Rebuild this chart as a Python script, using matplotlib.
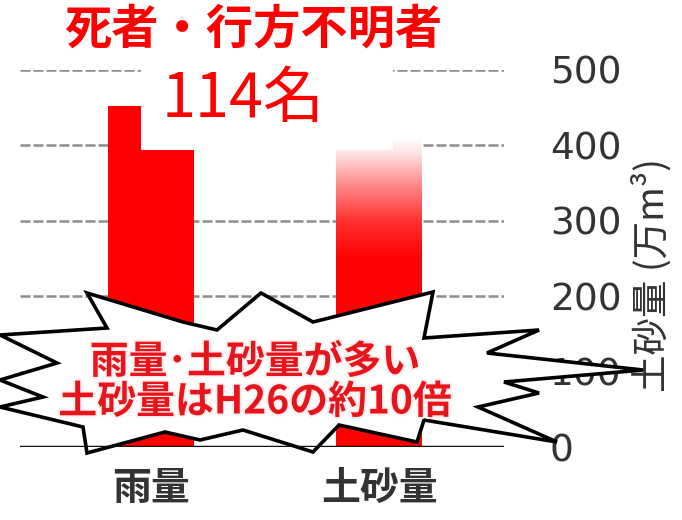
import matplotlib.pyplot as plt
import matplotlib.transforms as mtransforms
import matplotlib.patheffects as pe
from matplotlib.patches import Rectangle, Polygon
from matplotlib.colors import LinearSegmentedColormap
import numpy as np

plt.rcParams['font.family'] = ['Noto Sans CJK JP', 'DejaVu Sans']

# data
categories = ['雨量', '土砂量']
values = [452, 410]            # 万m3
yticks = [0, 100, 200, 300, 400, 500]
ylabel = '土砂量 (万m³)'
title = '死者・行方不明者'
count_text = '114名'
callout_lines = ['雨量･土砂量が多い', '土砂量はH26の約10倍']

# starburst outline, image pixels (x right, y down)
burst = [(87, 293), (107, 328), (0, 335), (57, 363), (0, 380), (43, 397),
         (0, 407), (83, 427), (87, 453), (165, 432), (200, 440), (243, 430),
         (313, 452), (339, 425), (417, 442), (424, 420), (557, 442),
         (478, 407), (539, 393), (504, 382), (643, 370), (487, 353),
         (539, 330), (424, 338), (433, 292), (313, 322), (261, 293),
         (217, 330), (183, 322)]

W, H = 682, 520
fig = plt.figure(figsize=(W / 100, H / 100), dpi=100)
# pixel transform, origin top-left like the picture
px = mtransforms.Affine2D().scale(1 / W, -1 / H).translate(0, 1) + fig.transFigure

ax = fig.add_axes([20 / W, 1 - 447 / H, (504 - 20) / W, (447 - 70) / H])
x = np.arange(len(categories))
bars = ax.bar(x, values, width=0.375, color='#ff0000', zorder=2)

# second bar fades to white at the top
b = bars[1]
b.set_facecolor('none')
fade = LinearSegmentedColormap.from_list('fade', [(0, '#ff0000'), (0.62, '#ff0505'),
                                                  (0.73, '#ff3030'), (0.85, '#ff8c8c'),
                                                  (0.95, '#ffe4e4'), (1, '#ffffff')])
grad = np.linspace(0, 1, 256).reshape(-1, 1)
im = ax.imshow(grad, cmap=fade, origin='lower', aspect='auto', zorder=2,
               extent=(b.get_x(), b.get_x() + b.get_width(), 0, values[1]))
im.set_clip_path(b)

ax.set_xlim(-0.575, 1.548)
ax.set_ylim(0, 500)

for v in yticks[1:]:
    ax.axhline(v, color='#8c8c8c', lw=1.8, dashes=(4, 1.2), zorder=1)
ax.axhline(0, color='#111111', lw=2.5, zorder=5)

for s in ax.spines.values():
    s.set_visible(False)
ax.yaxis.tick_right()
ax.set_yticks(yticks)
ax.tick_params(axis='y', length=0, pad=33, labelsize=27, labelcolor='#333333')
for lab in ax.get_yticklabels():
    lab.set_family('DejaVu Sans')
ax.set_xticks(x, categories)
ax.tick_params(axis='x', length=0, pad=16, labelsize=28, labelcolor='#333333')
for lab in ax.get_xticklabels():
    lab.set_fontweight('bold')

ax.text(652, 275, ylabel, transform=px, rotation=90, ha='center', va='center',
        fontsize=27, color='#333333', clip_on=False)

# callout
ax.add_patch(Polygon(burst, closed=True, transform=px, facecolor='white',
                     edgecolor='black', lw=2.6, joinstyle='miter', zorder=4, clip_on=False))
for txt, ty in zip(callout_lines, [362, 402]):
    ax.text(255, ty, txt, transform=px, ha='center', va='center', fontsize=28,
            fontweight='bold', color='#e8141c', zorder=6, clip_on=False,
            path_effects=[pe.withStroke(linewidth=3, foreground='#fff0f0')])

# white box with casualty count
ax.add_patch(Rectangle((141, 150), 252, -87, transform=px, facecolor='white',
                       edgecolor='none', zorder=7, clip_on=False))
ax.text(243, 100, count_text, transform=px, ha='center', va='center', fontsize=44,
        color='#ff0000', zorder=8, clip_on=False)
ax.text(253, 30, title, transform=px, ha='center', va='center', fontsize=34,
        fontweight='bold', color='#ff0000', zorder=8, clip_on=False)

plt.savefig('out.png', dpi=100)
